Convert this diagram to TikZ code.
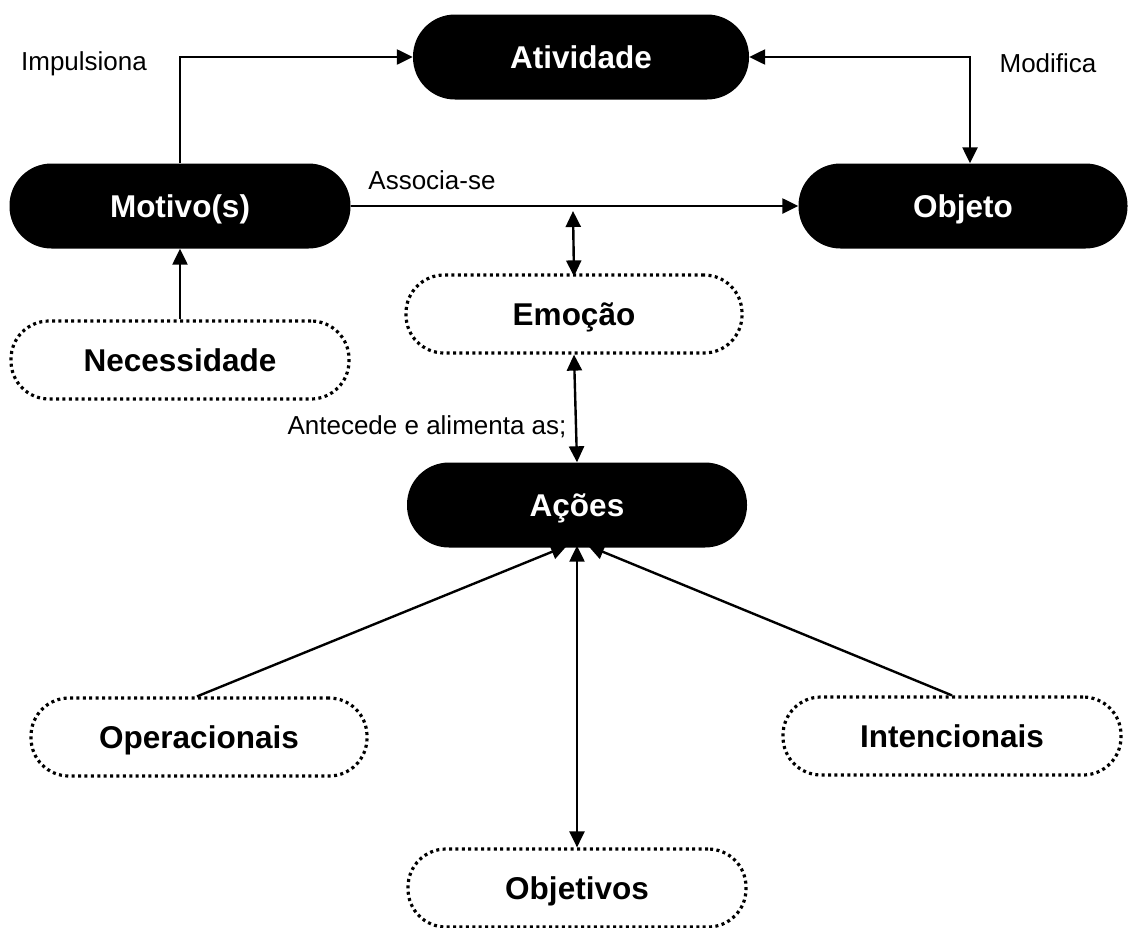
\documentclass[tikz,border=0pt]{standalone}
\usepackage{fontspec}
\setmainfont{Liberation Sans}
\usetikzlibrary{arrows.meta}
\begin{document}
\begin{tikzpicture}[x=1pt,y=-1pt,
  boxfont/.style={font=\bfseries\fontsize{31.5}{36}\selectfont, text height=22.5pt, text depth=0pt},
  solidbox/.style={boxfont, fill=black, text=white,
    minimum height=85pt, rounded corners=42pt, inner sep=0pt},
  dotbox/.style={boxfont, draw=black, line width=3.2pt, dash pattern=on 3pt off 3.4pt,
    minimum height=78pt, rounded corners=38pt, inner sep=0pt},
  lbl/.style={font=\fontsize{26}{30}\selectfont, inner sep=0pt},
  conn/.style={line width=2.4pt},
  >={Triangle[length=16pt,width=15pt]}
]
\useasboundingbox (0,0) rectangle (1129,927);

% boxes
\node[solidbox, minimum width=336pt] (ativ) at (581,57) {Atividade};
\node[solidbox, minimum width=341pt] (mot) at (180,206) {Motivo(s)};
\node[solidbox, minimum width=329pt] (obj) at (963,206) {Objeto};
\node[dotbox, minimum width=338pt] (nec) at (180,360) {Necessidade};
\node[dotbox, minimum width=336pt] (emo) at (574,314) {Emoção};
\node[solidbox, minimum width=340pt] (acoes) at (577,505) {Ações};
\node[dotbox, minimum width=336pt] (oper) at (199,737) {Operacionais};
\node[dotbox, minimum width=338pt] (inten) at (952,736) {Intencionais};
\node[dotbox, minimum width=338pt] (objv) at (577,888) {Objetivos};

% labels
\node[lbl] (limp) at (84,64) {Impulsiona};
\node[lbl] (lmod) at (1048,63) {Modifica};
\node[lbl] (lass) at (432,180) {Associa-se};
\node[lbl] (lant) at (427,427) {Antecede e alimenta as;};

% connectors
\draw[conn,->] (mot.north) |- (ativ.west);
\draw[conn,<->] (ativ.east) -| ([xshift=7pt]obj.north);
\draw[conn,->] (mot.east) -- (obj.west);
\draw[conn,->] (nec.north) -- (mot.south);
\coordinate (etop) at (573,211);
\draw[conn,<->] (etop) -- ([yshift=-3pt]emo.north);
\draw[conn,<->] (emo.south) -- (acoes.north);
\draw[conn,->] ([xshift=-2pt]oper.north) -- ([xshift=-10pt,yshift=2pt]acoes.south);
\draw[conn,->] (inten.north) -- ([xshift=11pt,yshift=2pt]acoes.south);
\draw[conn,<->] ([yshift=2pt]acoes.south) -- (objv.north);
\end{tikzpicture}
\end{document}
